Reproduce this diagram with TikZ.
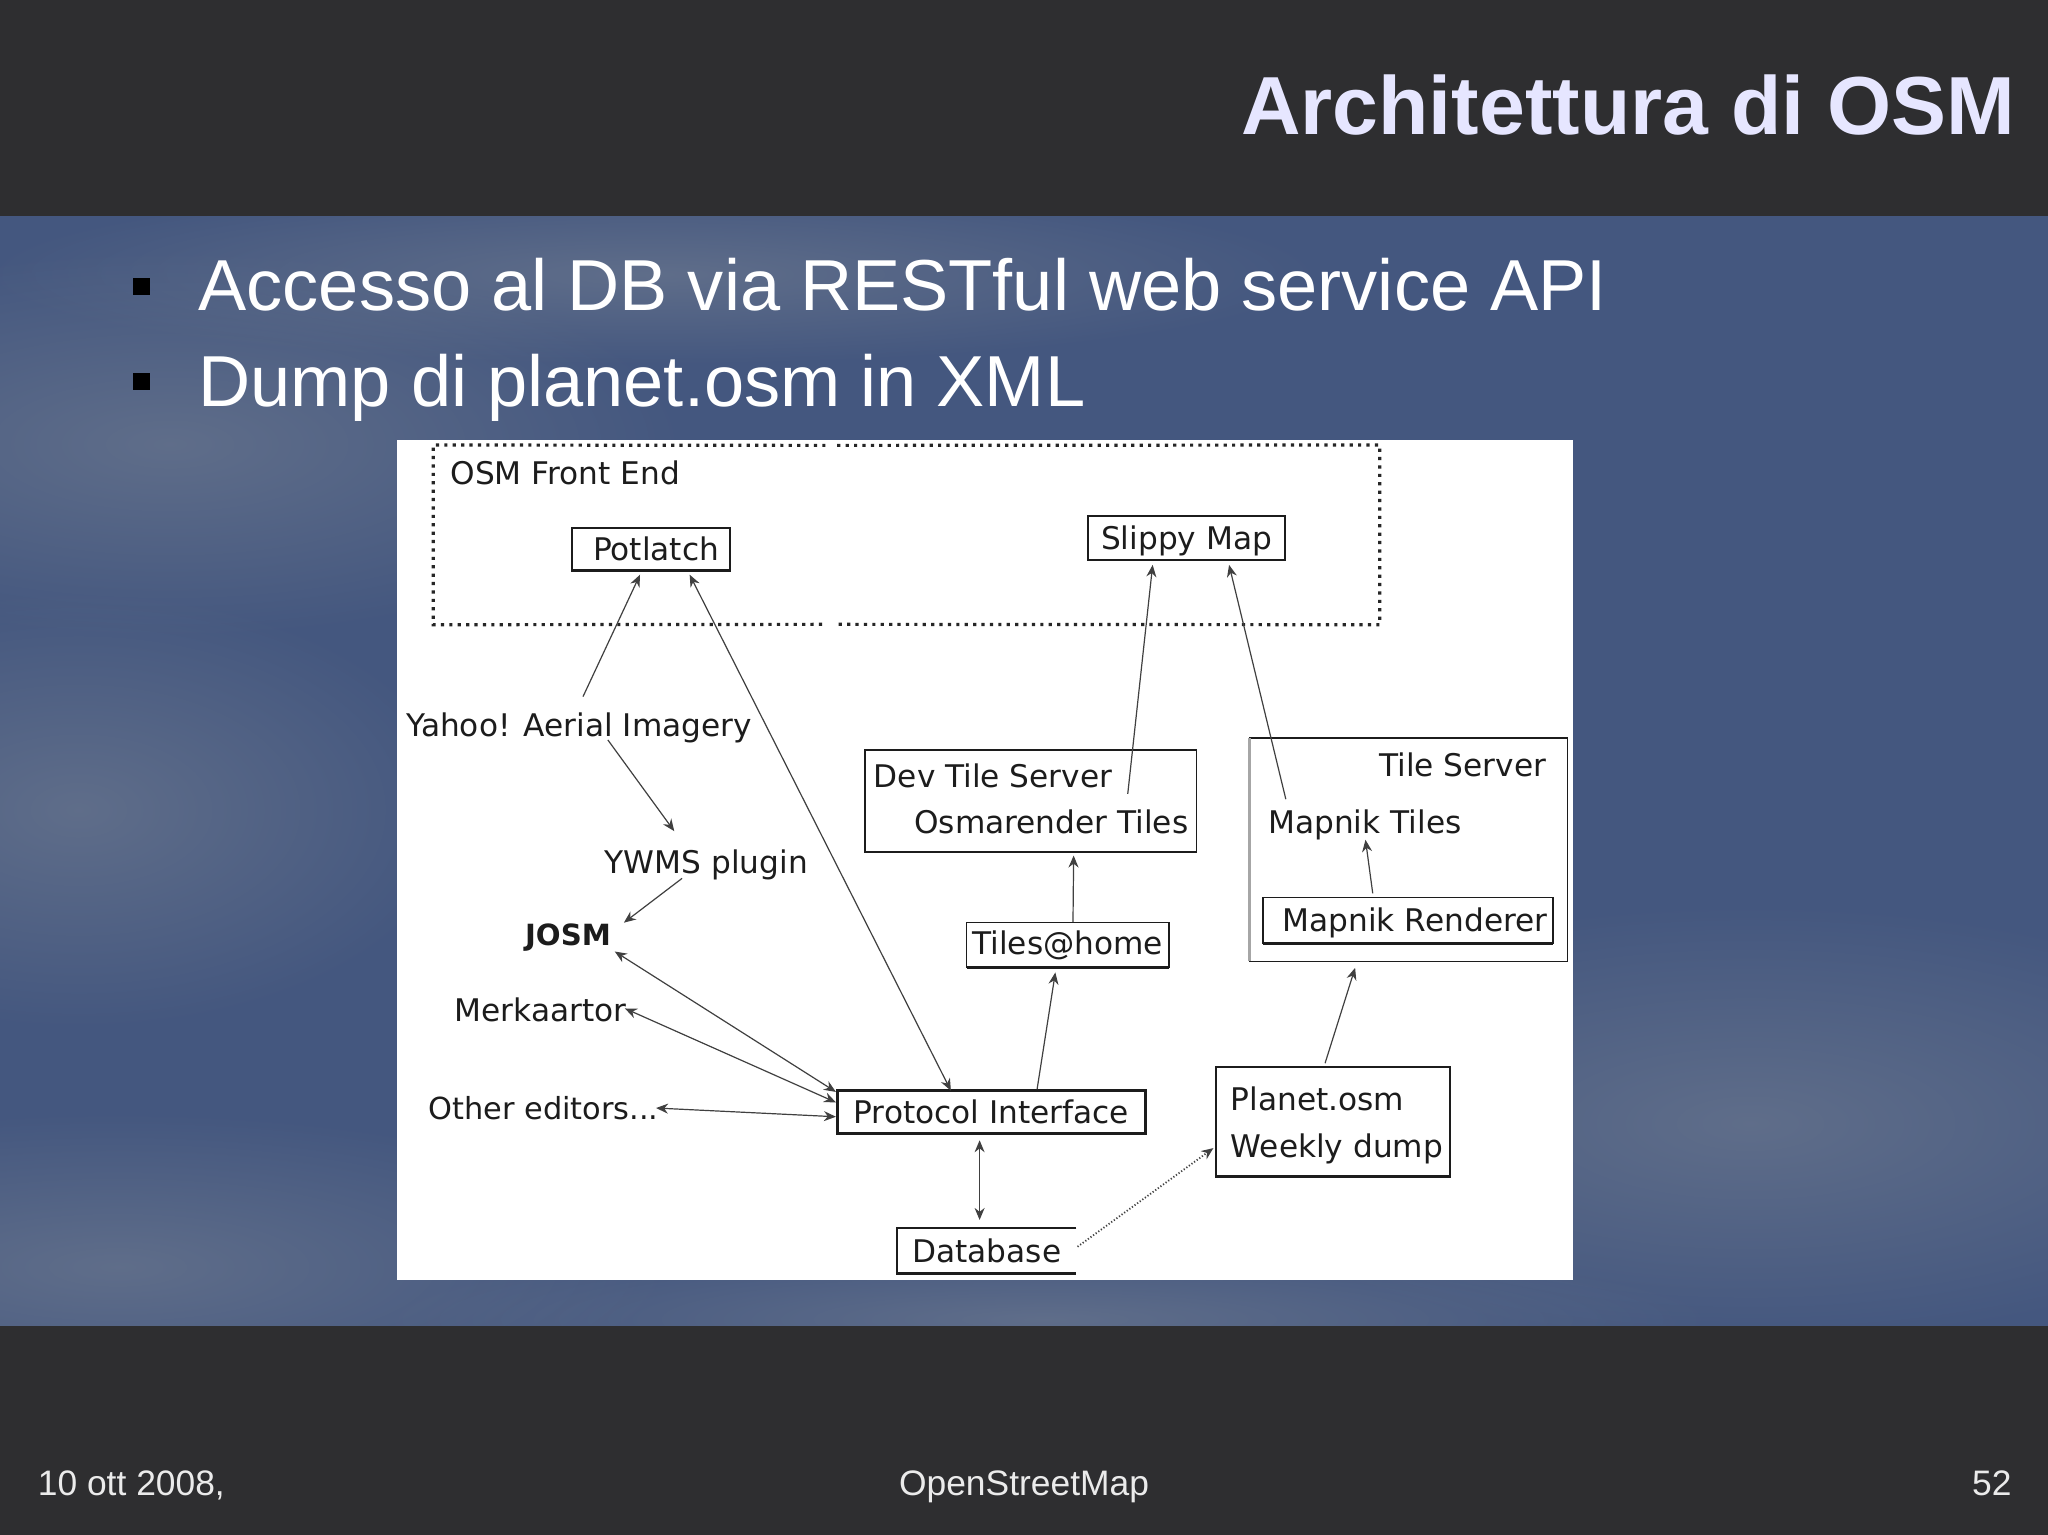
\documentclass[tikz,border=0pt]{standalone}
\usepackage{fontspec}
\setmainfont{Liberation Sans}
\newfontfamily\diagfont{DejaVu Sans}
\usetikzlibrary{arrows.meta,fadings}
\definecolor{slidebar}{HTML}{2E2E30}
\definecolor{skyblue}{HTML}{44577F}
\definecolor{cloudgrey}{HTML}{6E7A90}
\definecolor{titlelilac}{HTML}{E6E6FF}
\definecolor{inkline}{HTML}{1C1C1C}
\tikzfading[name=softcloud, inner color=transparent!35, outer color=transparent!100]

\begin{document}
\begin{tikzpicture}[
	x=0.65306pt,
	y=-0.65306pt,
	>={Stealth[length=6pt,width=5pt]},
	sized/.style 2 args={minimum width=#1*0.65306pt, minimum height=#2*0.65306pt},
	cloud/.style={fill=cloudgrey, path fading=softcloud},
	box/.style={
		rectangle,
		draw=inkline,
		line width=0.9pt,
		inner sep=0pt,
		outer sep=0pt,
		align=center,
		text=inkline,
		font=\diagfont\fontsize{15.6}{23.5}\selectfont,
		text height=11.7pt,
		text depth=0pt,
	},
	plain/.style={
		inner sep=0pt,
		outer sep=0pt,
		anchor=base west,
		text=inkline,
		font=\diagfont\fontsize{15.6}{23.5}\selectfont,
	},
	slidetext/.style={inner sep=0pt, outer sep=0pt, text=white, font=\fontsize{36.1}{43}\selectfont, anchor=base west},
	foot/.style={inner sep=0pt, outer sep=0pt, text=white!92!black, font=\fontsize{17.7}{21}\selectfont},
	square/.style={rectangle, fill=black, inner sep=0pt, minimum size=8.5pt},
	link/.style={line width=0.6pt, draw=black!75},
	dotline/.style={line width=1.6pt, draw=black!85, dash pattern=on 1.6pt off 2.6pt},
]
\useasboundingbox (0,0) rectangle (1568,1175.2);

% slide background
\fill[skyblue] (0,0) rectangle (1568,1175.2);
\begin{scope}
\clip (0,0) rectangle (1568,1175.2);
\fill[cloud] (130,340) ellipse (400 and 150);
\fill[cloud] (500,210) ellipse (520 and 70);
\fill[cloud] (60,620) ellipse (300 and 170);
\fill[cloud] (90,970) ellipse (430 and 120);
\fill[cloud] (1340,860) ellipse (460 and 170);
\fill[cloud] (800,1010) ellipse (520 and 60);
\end{scope}
\fill[slidebar] (0,0) rectangle (1568,165);
\fill[slidebar] (0,1015) rectangle (1568,1175.2);

\node[inner sep=0pt, anchor=base east, text=titlelilac, font=\bfseries\fontsize{41.2}{49}\selectfont] (title) at (1543,103) {Architettura di OSM};
\node[square] (b1) at (108.5,219) {};
\node[slidetext] (line1) at (152,238) {Accesso al DB via RESTful web service API};
\node[square] (b2) at (108.5,292) {};
\node[slidetext] (line2) at (152,311) {Dump di planet.osm in XML};

\node[foot, anchor=base west] (date) at (29,1145) {10 ott 2008,};
\node[foot, anchor=base] (foottitle) at (784,1145) {OpenStreetMap};
\node[foot, anchor=base east] (page) at (1540,1145) {52};

% the picture on the slide
\fill[white] (304,337) rectangle (1204,980);

\node[sized={724}{137}] (front) at (694,409.5) {};
\draw[dotline] (632,341) -- (front.north west) -- (front.south west) -- (632,478);
\draw[dotline] (641,341) -- (front.north east) -- (front.south east) -- (641,478);
\node[plain] (fronttext) at (345,371) {OSM Front End};

\node[box, sized={121}{33}] (pot) at (498.5,420.5) {\hspace*{5pt}Potlatch};
\node[box, sized={151}{34}] (slippy) at (908.5,412) {Slippy Map};

\node[plain] (yahoo) at (311,563.5) {Yahoo! Aerial Imagery};
\node[plain] (ywms) at (463,668.5) {YWMS plugin};
\node[plain, font=\diagfont\bfseries\fontsize{14.6}{17}\selectfont] (josm) at (402,724) {JOSM};
\node[plain] (merk) at (348,782) {Merkaartor};
\node[plain, font=\diagfont\fontsize{15.2}{18}\selectfont] (other) at (328,857) {Other editors...};

\node[box, sized={236}{33}, line width=1.6pt] (proto) at (759,851.5) {Protocol Interface};
\node[box, draw=none, sized={137}{35}] (db) at (755.5,957.5) {Database};
\draw[line width=1.1pt, draw=inkline] (db.north east) -- (db.north west) -- (db.south west) -- (db.south east);

\node[box, sized={254}{78}] (dev) at (789,613) {};
\node[plain] (devtext) at (669,603) {Dev Tile Server};
\node[plain] (ostiles) at (700,638) {Osmarender Tiles};
\node[box, sized={155}{35}, line width=0.6pt, text depth=2pt] (tiles) at (817.5,723.5) {Tiles@home};

\node[box, sized={243}{171}, line width=0.7pt] (tile) at (1078.5,650.5) {};
\draw[line width=1.5pt, draw=black!35] (tile.north west) -- (tile.south west);
\node[plain] (tiletext) at (1056,594.5) {Tile Server};
\node[plain] (mapt) at (971,638) {Mapnik Tiles};
\node[box, sized={222}{35}, line width=0.6pt] (mapr) at (1078,704.5) {\hspace*{7pt}Mapnik Renderer};

\node[box, sized={179}{84}, line width=0.7pt, align=left, text height=, text depth=-3pt, xshift=0pt] (planet) at (1020.5,859) {\hspace*{4pt}Planet.osm\\ \hspace*{4pt}Weekly dump};

% heavier lower edges
\foreach \n in {pot,tiles,mapr,planet} {
	\draw[line width=1.5pt, draw=inkline] (\n.south west) -- (\n.south east);
}

\draw[->,link] ([shift={(3,-12)}]yahoo.north) -- ([shift={(-8.5,3)}]pot.south);
\draw[<->,link] ([shift={(29.5,3)}]pot.south) -- ([shift={(-31,0)}]proto.north);
\draw[->,link] ([shift={(22,-2)}]yahoo.south) -- ([shift={(-24.5,-14)}]ywms.north);
\draw[->,link] ([shift={(-18.5,-1)}]ywms.south) -- ([shift={(10,-1)}]josm.north east);
\draw[<->,link] ([shift={(3,0)}]josm.south east) -- ([shift={(-1,1)}]proto.north west);
\draw[<->,link] ([shift={(-1,-1)}]merk.east) -- ([shift={(-1,-7.5)}]proto.west);
\draw[<->,link] ([shift={(-2,0)}]other.east) -- ([shift={(-1,3.5)}]proto.west);
\draw[<->,link] ([shift={(-9,5)}]proto.south) -- ([shift={(-5.5,-6)}]db.north);
\draw[->,link,densely dotted,line width=0.9pt] ([shift={(1,-3)}]db.east) -- ([shift={(-2,20)}]planet.west);
\draw[->,link] ([shift={(35,-1)}]proto.north) -- ([shift={(-9.5,3.5)}]tiles.south);
\draw[->,link] ([shift={(4,0)}]tiles.north) -- ([shift={(33,3)}]dev.south);
\draw[->,link] ([shift={(58.5,-12)}]ostiles.north) -- ([shift={(-26,3.5)}]slippy.south);
\draw[->,link] ([shift={(-60.5,-8)}]mapt.north) -- ([shift={(32.5,3.5)}]slippy.south);
\draw[->,link] ([shift={(-27,-3)}]mapr.north) -- ([shift={(0.5,0)}]mapt.south);
\draw[->,link] ([shift={(-6,-3)}]planet.north) -- ([shift={(-41,5)}]tile.south);

\end{tikzpicture}
\end{document}
